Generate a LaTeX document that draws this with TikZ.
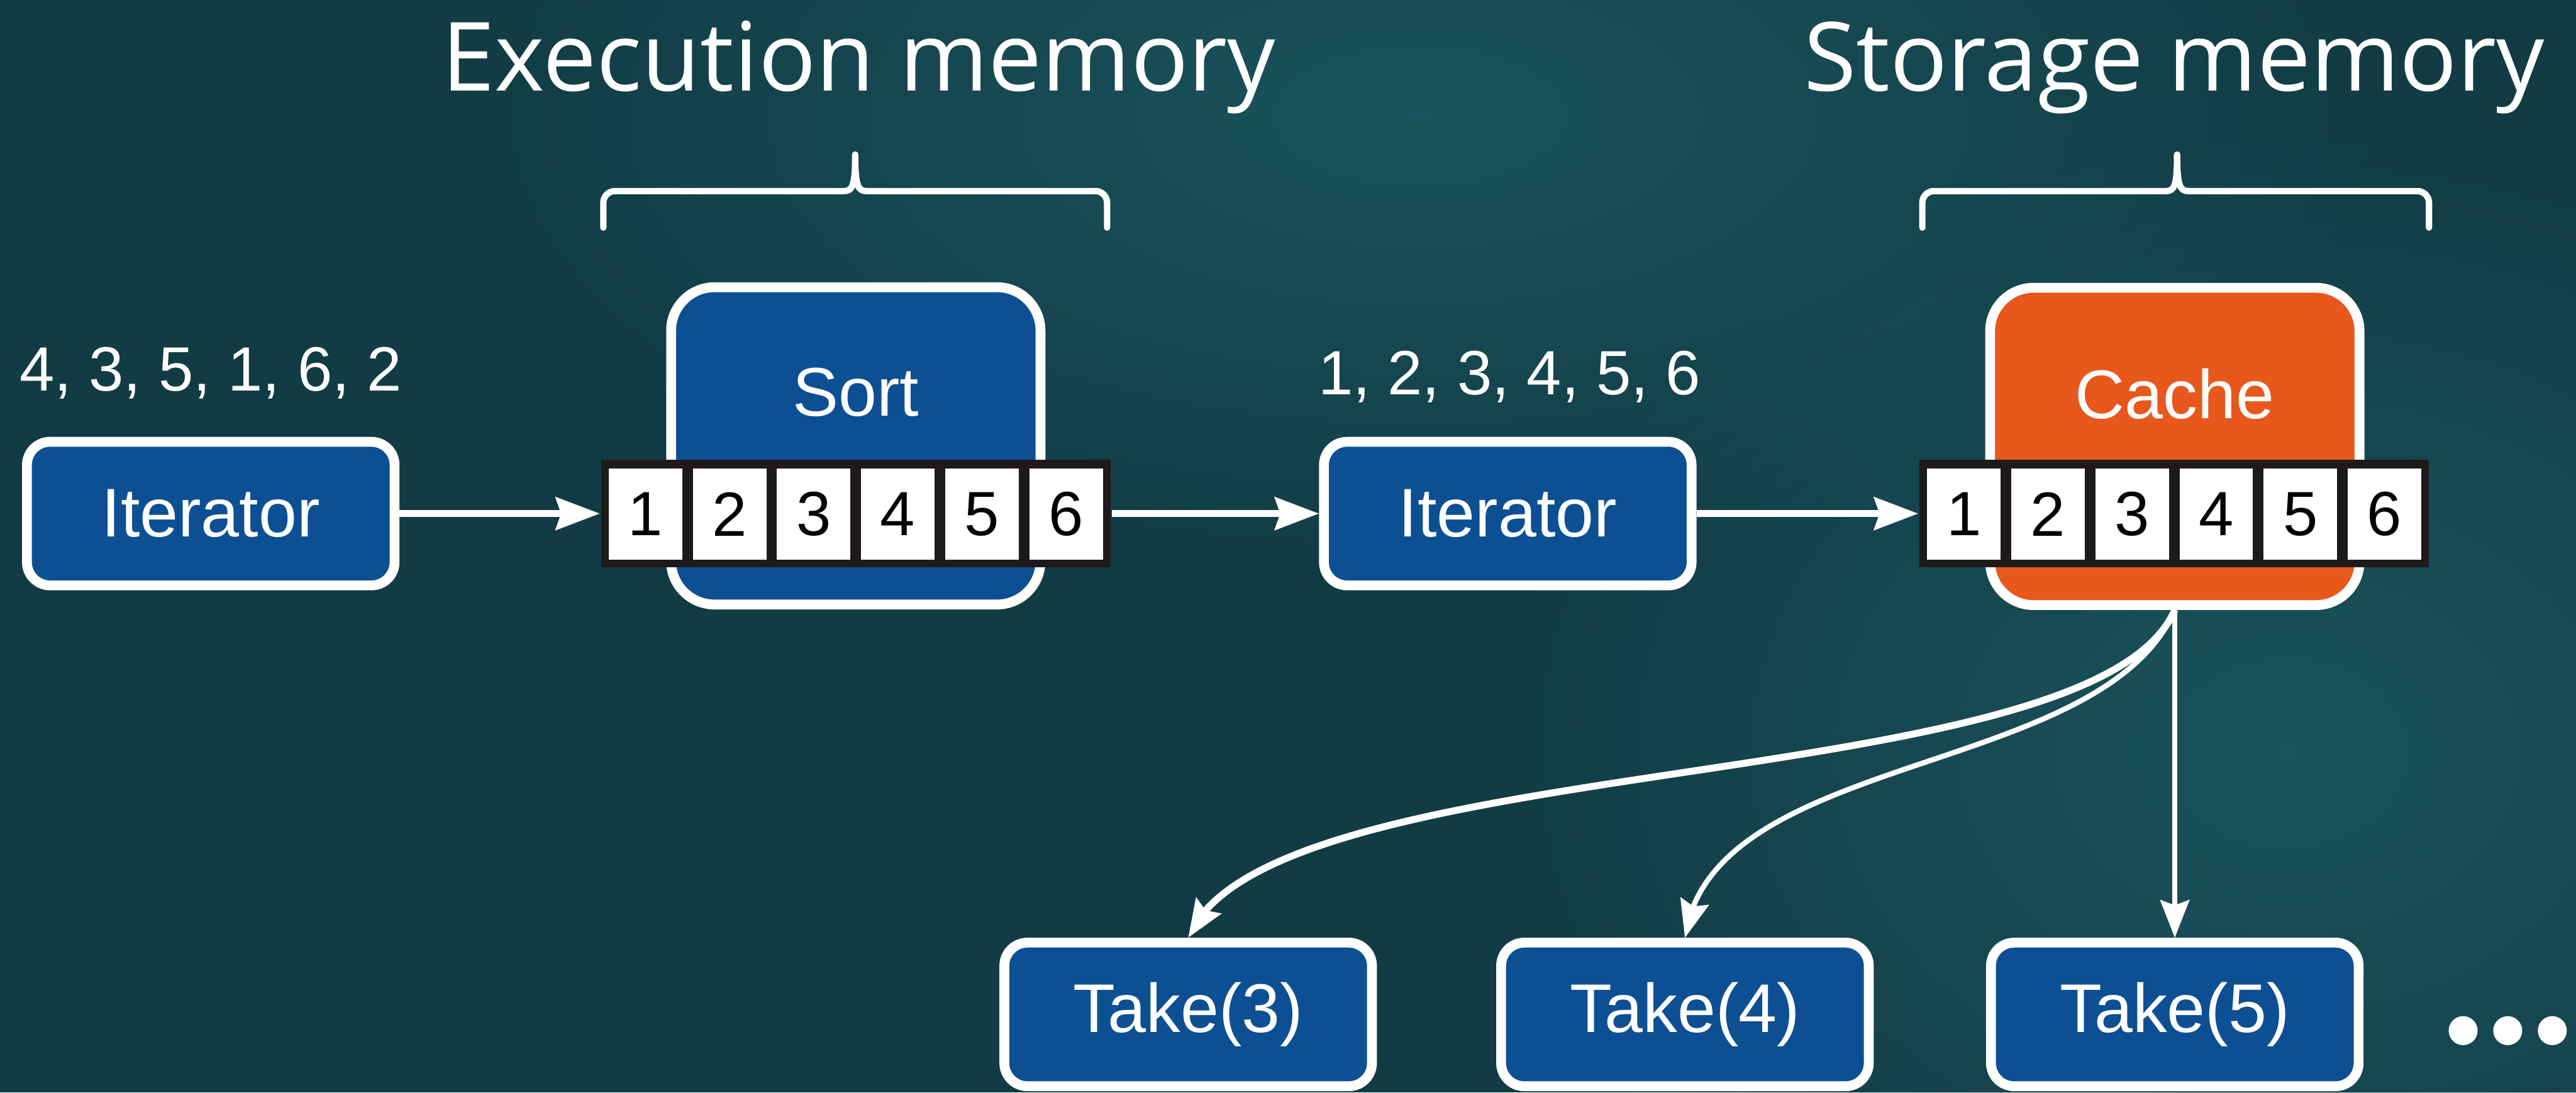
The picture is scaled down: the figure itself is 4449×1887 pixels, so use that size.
\documentclass[tikz,border=0pt]{standalone}
\usepackage{fontspec}
\setmainfont{Liberation Sans}
\newfontfamily\headfont{Open Sans}
\usetikzlibrary{arrows.meta,bending,fadings}

\definecolor{bgteal}{HTML}{123C44}
\definecolor{bgglow}{HTML}{1C5660}
\definecolor{boxblue}{HTML}{0D4F93}
\definecolor{cacheorange}{HTML}{E8571C}
\definecolor{cellline}{HTML}{1E1A1A}

\tikzfading[name=glowfade, inner color=transparent!0, outer color=transparent!100]

\begin{document}
\begin{tikzpicture}[x=0.1pt, y=-0.1pt,
  opbox/.style={draw=white, line width=1.7pt, fill=boxblue, rounded corners=4pt,
    inner sep=0pt, minimum width=63.5pt, minimum height=24.8pt, text=white,
    font=\fontsize{11.9pt}{14pt}\selectfont},
  bigbox/.style={draw=white, line width=1.7pt, rounded corners=7.5pt,
    inner sep=0pt, minimum width=63.8pt, minimum height=54.8pt},
  boxtext/.style={text=white, inner sep=0pt, font=\fontsize{11.9pt}{14pt}\selectfont},
  strip/.style={fill=cellline, inner sep=0pt, minimum width=88pt, minimum height=18.6pt},
  cell/.style={fill=white, inner sep=0pt, minimum width=12.7pt, minimum height=15.8pt,
    font=\fontsize{10.8pt}{12pt}\selectfont},
  seqlabel/.style={text=white, inner sep=0pt, font=\fontsize{10.8pt}{12pt}\selectfont},
  heading/.style={text=white, inner sep=0pt, font=\headfont\fontsize{16.5pt}{20pt}\selectfont},
  flow/.style={draw=white, line width=1.2pt, -{Stealth[length=7.6pt, width=5.6pt, inset=0.9pt]}},
  fan/.style={draw=white, -{Stealth[length=6.5pt, width=5pt, inset=0.9pt, flex]}},
  brace/.style={draw=white, line width=1.1pt, line cap=round},
  dot/.style={circle, fill=white, inner sep=0pt, minimum size=5pt},
]

% backdrop
\useasboundingbox (0,0) rectangle (4449,1887);
\begin{scope}
  \clip (0,0) rectangle (4449,1887);
  \fill[bgteal] (0,0) rectangle (4449,1887);
  \fill[bgglow, path fading=glowfade, opacity=0.9] (2450,200) ellipse [x radius=170pt, y radius=80pt];
  \fill[bgglow, path fading=glowfade, opacity=0.9] (3950,1300) ellipse [x radius=140pt, y radius=110pt];
\end{scope}

% headings and braces
\node[heading, anchor=base] (exechead) at (1483,157) {Execution memory};
\node[heading, anchor=base] (storehead) at (3755,157) {Storage memory};

\draw[brace] (1042,393) -- (1042,350) arc[start angle=180, end angle=90, radius=2pt]
  -- (1457,330) .. controls (1472,330) and (1477,322) .. (1477,267);
\draw[brace] (1912,393) -- (1912,350) arc[start angle=0, end angle=90, radius=2pt]
  -- (1497,330) .. controls (1482,330) and (1477,322) .. (1477,267);
\draw[brace] (3320,393) -- (3320,350) arc[start angle=180, end angle=90, radius=2pt]
  -- (3740,330) .. controls (3755,330) and (3760,322) .. (3760,267);
\draw[brace] (4195,393) -- (4195,350) arc[start angle=0, end angle=90, radius=2pt]
  -- (3780,330) .. controls (3765,330) and (3760,322) .. (3760,267);

% source iterator
\node[opbox] (it1) at (364,887) {Iterator};
\node[seqlabel, anchor=base] (inseq) at (364,675) {4, 3, 5, 1, 6, 2};

% sort operator with its buffer
\node[bigbox, fill=boxblue] (sort) at (1478,770) {};
\node[boxtext] (sorttxt) at (1478,678) {Sort};
\node[strip] (arr1) at (1478,887) {};
\foreach \v [count=\i from 0] in {1,...,6}
  \node[cell] (ca\v) at (1114.7+\i*145.3,888) {\v};

% sorted iterator
\node[opbox] (it2) at (2604,887) {Iterator};
\node[seqlabel, anchor=base] (outseq) at (2607,682) {1, 2, 3, 4, 5, 6};

% cache with its buffer
\node[bigbox, fill=cacheorange] (cache) at (3756,771) {};
\node[boxtext] (cachetxt) at (3756,680) {Cache};
\node[strip] (arr2) at (3755,887) {};
\foreach \v [count=\i from 0] in {1,...,6}
  \node[cell] (cb\v) at (3391.7+\i*145.3,888) {\v};

% consumers
\node[opbox] (t3) at (2052,1752) {Take(3)};
\node[opbox] (t4) at (2910,1752) {Take(4)};
\node[opbox] (t5) at (3756,1752) {Take(5)};
\node[dot] (d1) at (4254,1780) {};
\node[dot] (d2) at (4331,1780) {};
\node[dot] (d3) at (4408,1780) {};

% data flow
\draw[flow] (it1.east) -- (arr1.west);
\draw[flow] (arr1.east) -- (it2.west);
\draw[flow] (it2.east) -- (arr2.west);

\draw[fan, line width=1.2pt] (cache.south) .. controls (3614,1382) and (2188,1287) .. (t3.north);
\draw[fan, line width=0.9pt] (cache.south) .. controls (3629,1345) and (2955,1295) .. (t4.north);
\draw[fan, line width=0.8pt] (cache.south) -- (t5.north);

\end{tikzpicture}
\end{document}
